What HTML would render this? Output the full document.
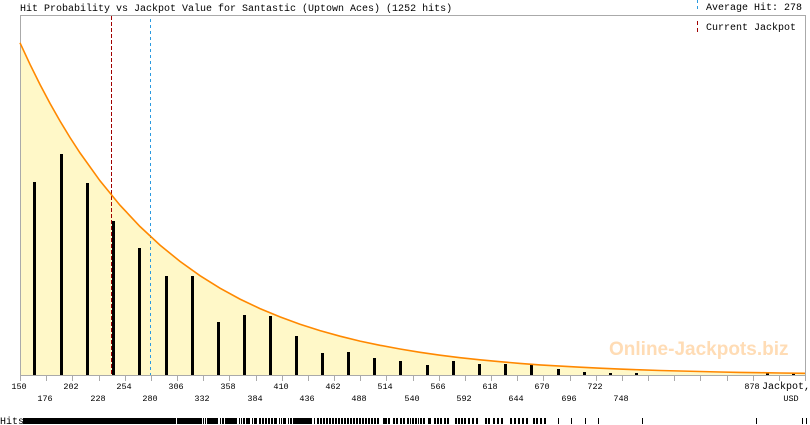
<!DOCTYPE html>
<html><head><meta charset="utf-8"><style>
html,body{margin:0;padding:0;background:#fff;}
svg{display:block;}
text{font-family:"Liberation Mono",monospace;fill:#000;}
</style></head><body>
<svg width="810" height="425" viewBox="0 0 810 425" xmlns="http://www.w3.org/2000/svg">
<rect width="810" height="425" fill="#fff"/>
<path d="M20,42.8 L30,64.3 L40,84.5 L50,103.4 L60,121 L70,137.5 L80,152.9 L100,180.8 L120,205.2 L140,226.5 L160,245.1 L180,261.4 L200,275.7 L220,288.2 L240,299.1 L260,308.6 L280,316.9 L300,324.2 L320,330.6 L340,336.2 L360,341.1 L380,345.3 L400,349 L420,352.3 L440,355.2 L460,357.7 L480,359.8 L500,361.7 L520,363.4 L540,364.9 L560,366.1 L580,367.2 L600,368.2 L620,369.1 L640,369.8 L660,370.5 L680,371 L700,371.5 L720,372 L740,372.4 L760,372.7 L780,373 L805,373.3 L805,375 L20,375 Z" fill="#fff8c8"/>
<text x="609" y="355" style="font-family:'Liberation Sans',sans-serif;font-weight:bold;font-size:19px;fill:#ffdcb5">Online-Jackpots.biz</text>
<g fill="#000" shape-rendering="crispEdges">
<rect x="33" y="182" width="3" height="193"/>
<rect x="60" y="154" width="3" height="221"/>
<rect x="86" y="183" width="3" height="192"/>
<rect x="112" y="221" width="3" height="154"/>
<rect x="138" y="248" width="3" height="127"/>
<rect x="165" y="276" width="3" height="99"/>
<rect x="191" y="276" width="3" height="99"/>
<rect x="217" y="322" width="3" height="53"/>
<rect x="243" y="315" width="3" height="60"/>
<rect x="269" y="316" width="3" height="59"/>
<rect x="295" y="336" width="3" height="39"/>
<rect x="321" y="353" width="3" height="22"/>
<rect x="347" y="352" width="3" height="23"/>
<rect x="373" y="358" width="3" height="17"/>
<rect x="399" y="361" width="3" height="14"/>
<rect x="426" y="365" width="3" height="10"/>
<rect x="452" y="361" width="3" height="14"/>
<rect x="478" y="364" width="3" height="11"/>
<rect x="504" y="364" width="3" height="11"/>
<rect x="530" y="364" width="3" height="11"/>
<rect x="557" y="369" width="3" height="6"/>
<rect x="583" y="372" width="3" height="3"/>
<rect x="609" y="373" width="3" height="2"/>
<rect x="635" y="373" width="3" height="2"/>
<rect x="766" y="373" width="3" height="2"/>
<rect x="792" y="373" width="3" height="2"/>
</g>
<g stroke="#aaaaaa" stroke-width="1" shape-rendering="crispEdges" fill="none">
<line x1="20.5" y1="15" x2="20.5" y2="376"/>
<line x1="20" y1="15.5" x2="806" y2="15.5"/>
<line x1="805.5" y1="15" x2="805.5" y2="376"/>
<line x1="20" y1="375.5" x2="806" y2="375.5"/>
<path d="M20.5,375V381M46.5,375V381M72.5,375V381M99.5,375V381M125.5,375V381M151.5,375V381M177.5,375V381M203.5,375V381M229.5,375V381M256.5,375V381M282.5,375V381M308.5,375V381M334.5,375V381M360.5,375V381M386.5,375V381M413.5,375V381M439.5,375V381M465.5,375V381M491.5,375V381M517.5,375V381M543.5,375V381M570.5,375V381M596.5,375V381M622.5,375V381M648.5,375V381M674.5,375V381M700.5,375V381M727.5,375V381M753.5,375V381M779.5,375V381M805.5,375V381"/>
</g>
<line x1="111.5" y1="16" x2="111.5" y2="375" stroke="#a00000" stroke-width="1" stroke-dasharray="4,2" shape-rendering="crispEdges"/>
<line x1="150.5" y1="19" x2="150.5" y2="375" stroke="#2a9ae0" stroke-width="1" stroke-dasharray="3,3" shape-rendering="crispEdges"/>
<line x1="697.5" y1="0" x2="697.5" y2="11" stroke="#2a9ae0" stroke-width="1" stroke-dasharray="3,3" shape-rendering="crispEdges"/>
<line x1="697.5" y1="21" x2="697.5" y2="32" stroke="#a00000" stroke-width="1" stroke-dasharray="4,3" shape-rendering="crispEdges"/>
<polyline fill="none" stroke="#ff8800" stroke-width="1.6" points="20,42.8 30,64.3 40,84.5 50,103.4 60,121 70,137.5 80,152.9 100,180.8 120,205.2 140,226.5 160,245.1 180,261.4 200,275.7 220,288.2 240,299.1 260,308.6 280,316.9 300,324.2 320,330.6 340,336.2 360,341.1 380,345.3 400,349 420,352.3 440,355.2 460,357.7 480,359.8 500,361.7 520,363.4 540,364.9 560,366.1 580,367.2 600,368.2 620,369.1 640,369.8 660,370.5 680,371 700,371.5 720,372 740,372.4 760,372.7 780,373 805,373.3"/>
<text x="20" y="11" font-size="10">Hit Probability vs Jackpot Value for Santastic (Uptown Aces) (1252 hits)</text>
<text x="706" y="10" font-size="10">Average Hit: 278</text>
<text x="706" y="30" font-size="10">Current Jackpot</text>
<g font-size="8.5" text-anchor="middle">
<text x="19" y="389">150</text>
<text x="71" y="389">202</text>
<text x="124" y="389">254</text>
<text x="176" y="389">306</text>
<text x="228" y="389">358</text>
<text x="281" y="389">410</text>
<text x="333" y="389">462</text>
<text x="385" y="389">514</text>
<text x="438" y="389">566</text>
<text x="490" y="389">618</text>
<text x="542" y="389">670</text>
<text x="595" y="389">722</text>
<text x="752" y="389">878</text>
<text x="45" y="401">176</text>
<text x="98" y="401">228</text>
<text x="150" y="401">280</text>
<text x="202" y="401">332</text>
<text x="255" y="401">384</text>
<text x="307" y="401">436</text>
<text x="359" y="401">488</text>
<text x="412" y="401">540</text>
<text x="464" y="401">592</text>
<text x="516" y="401">644</text>
<text x="569" y="401">696</text>
<text x="621" y="401">748</text>
<text x="791" y="401">USD</text>
</g>
<text x="762" y="389" font-size="10">Jackpot,</text>
<text x="0" y="424" font-size="10">Hits:</text>
<g fill="#000" shape-rendering="crispEdges">
<rect x="23" y="418" width="153" height="6"/>
<rect x="177" y="418" width="25" height="6"/>
<rect x="203" y="418" width="1" height="6"/><rect x="205" y="418" width="1" height="6"/>
<rect x="207" y="418" width="11" height="6"/>
<rect x="220" y="418" width="1" height="6"/><rect x="222" y="418" width="2" height="6"/>
<rect x="225" y="418" width="12" height="6"/>
<rect x="239" y="418" width="1" height="6"/><rect x="241" y="418" width="1" height="6"/><rect x="243" y="418" width="2" height="6"/>
<rect x="246" y="418" width="4" height="6"/><rect x="252" y="418" width="1" height="6"/><rect x="254" y="418" width="3" height="6"/>
<rect x="259" y="418" width="2" height="6"/><rect x="262" y="418" width="2" height="6"/><rect x="265" y="418" width="2" height="6"/><rect x="268" y="418" width="2" height="6"/><rect x="271" y="418" width="2" height="6"/>
<rect x="274" y="418" width="3" height="6"/><rect x="279" y="418" width="1" height="6"/><rect x="281" y="418" width="1" height="6"/><rect x="283" y="418" width="3" height="6"/><rect x="288" y="418" width="1" height="6"/><rect x="290" y="418" width="2" height="6"/>
<rect x="293" y="418" width="19" height="6"/>
<rect x="314" y="418" width="1" height="6"/>
<rect x="317" y="418" width="2" height="6"/><rect x="320" y="418" width="2" height="6"/><rect x="323" y="418" width="2" height="6"/><rect x="326" y="418" width="2" height="6"/><rect x="329" y="418" width="2" height="6"/><rect x="332" y="418" width="2" height="6"/><rect x="335" y="418" width="2" height="6"/><rect x="338" y="418" width="2" height="6"/><rect x="341" y="418" width="2" height="6"/><rect x="344" y="418" width="2" height="6"/><rect x="347" y="418" width="2" height="6"/><rect x="350" y="418" width="2" height="6"/><rect x="353" y="418" width="2" height="6"/><rect x="356" y="418" width="2" height="6"/><rect x="359" y="418" width="2" height="6"/><rect x="362" y="418" width="2" height="6"/><rect x="365" y="418" width="2" height="6"/>
<rect x="368" y="418" width="2" height="6"/><rect x="371" y="418" width="2" height="6"/><rect x="374" y="418" width="2" height="6"/><rect x="377" y="418" width="2" height="6"/>
<rect x="383" y="418" width="4" height="6"/><rect x="388" y="418" width="2" height="6"/>
<rect x="393" y="418" width="2" height="6"/><rect x="396" y="418" width="2" height="6"/><rect x="400" y="418" width="2" height="6"/><rect x="403" y="418" width="2" height="6"/>
<rect x="407" y="418" width="2" height="6"/><rect x="410" y="418" width="1" height="6"/><rect x="412" y="418" width="2" height="6"/><rect x="415" y="418" width="2" height="6"/><rect x="418" y="418" width="1" height="6"/><rect x="420" y="418" width="2" height="6"/><rect x="423" y="418" width="2" height="6"/>
<rect x="428" y="418" width="3" height="6"/><rect x="434" y="418" width="2" height="6"/><rect x="437" y="418" width="2" height="6"/><rect x="440" y="418" width="2" height="6"/><rect x="444" y="418" width="2" height="6"/><rect x="447" y="418" width="2" height="6"/>
<rect x="455" y="418" width="2" height="6"/><rect x="458" y="418" width="2" height="6"/><rect x="461" y="418" width="2" height="6"/><rect x="464" y="418" width="2" height="6"/><rect x="468" y="418" width="2" height="6"/><rect x="472" y="418" width="2" height="6"/><rect x="476" y="418" width="2" height="6"/>
<rect x="485" y="418" width="2" height="6"/><rect x="488" y="418" width="2" height="6"/><rect x="493" y="418" width="2" height="6"/><rect x="497" y="418" width="2" height="6"/><rect x="501" y="418" width="2" height="6"/>
<rect x="510" y="418" width="2" height="6"/><rect x="514" y="418" width="2" height="6"/><rect x="518" y="418" width="2" height="6"/><rect x="522" y="418" width="2" height="6"/><rect x="526" y="418" width="2" height="6"/>
<rect x="533" y="418" width="2" height="6"/><rect x="536" y="418" width="2" height="6"/><rect x="540" y="418" width="2" height="6"/><rect x="544" y="418" width="2" height="6"/>
<rect x="558" y="418" width="1" height="6"/><rect x="571" y="418" width="1" height="6"/><rect x="585" y="418" width="1" height="6"/><rect x="598" y="418" width="1" height="6"/><rect x="642" y="418" width="1" height="6"/><rect x="756" y="418" width="1" height="6"/><rect x="802" y="418" width="1" height="6"/><rect x="806" y="418" width="1" height="6"/>
</g>
</svg>
</body></html>
